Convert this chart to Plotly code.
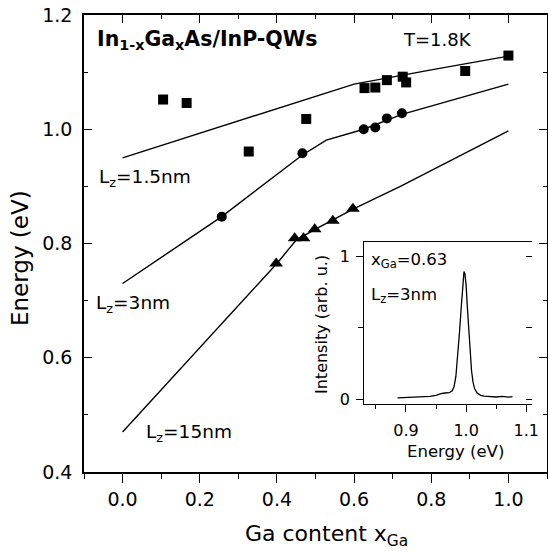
import plotly.graph_objects as go

# ---- data ----
sq_x = [0.105, 0.166, 0.327, 0.476, 0.627, 0.655, 0.685, 0.726, 0.735, 0.888, 1.000]
sq_y = [1.052, 1.046, 0.961, 1.018, 1.072, 1.073, 1.086, 1.092, 1.082, 1.102, 1.129]

ci_x = [0.257, 0.466, 0.625, 0.655, 0.685, 0.724]
ci_y = [0.847, 0.958, 1.000, 1.003, 1.019, 1.028]

tr_x = [0.398, 0.446, 0.469, 0.498, 0.545, 0.597]
tr_y = [0.765, 0.809, 0.809, 0.825, 0.840, 0.861]

l15_x = [0.0, 0.30, 0.60, 0.80, 1.00]
l15_y = [0.950, 1.014, 1.079, 1.104, 1.128]

l3_x = [0.0, 0.257, 0.466, 0.528, 0.625, 0.724, 1.00]
l3_y = [0.730, 0.847, 0.955, 0.981, 1.000, 1.026, 1.079]

l15nm_x = [0.0, 0.20, 0.40, 0.45, 0.50, 0.60, 0.72, 1.00]
l15nm_y = [0.470, 0.618, 0.765, 0.806, 0.825, 0.861, 0.900, 0.997]

# inset PL spectrum
pl_e = [0.886, 0.900, 0.910, 0.920, 0.930, 0.940, 0.950, 0.958, 0.965, 0.972, 0.977,
        0.980, 0.983, 0.986, 0.989, 0.992, 0.9945, 0.9965, 0.998, 1.000, 1.002, 1.004,
        1.0066, 1.009, 1.0115, 1.014, 1.018, 1.024, 1.030, 1.040, 1.050, 1.060, 1.070, 1.077]
pl_i = [0.010, 0.012, 0.014, 0.012, 0.016, 0.020, 0.028, 0.040, 0.044, 0.046, 0.060,
        0.090, 0.160, 0.300, 0.470, 0.650, 0.820, 0.895, 0.880, 0.800, 0.650, 0.500,
        0.346, 0.200, 0.120, 0.075, 0.045, 0.028, 0.022, 0.018, 0.016, 0.020, 0.015, 0.018]

FONT = "DejaVu Sans, Liberation Sans, Arial, sans-serif"
BLACK = "black"

fig = go.Figure()

# model curves
for lx, ly in [(l15_x, l15_y), (l3_x, l3_y), (l15nm_x, l15nm_y)]:
    fig.add_trace(go.Scatter(x=lx, y=ly, mode="lines",
                             line=dict(color=BLACK, width=1.4), showlegend=False,
                             xaxis="x", yaxis="y"))

fig.add_trace(go.Scatter(x=sq_x, y=sq_y, mode="markers",
                         marker=dict(symbol="square", size=10, color=BLACK),
                         showlegend=False, xaxis="x", yaxis="y"))
fig.add_trace(go.Scatter(x=ci_x, y=ci_y, mode="markers",
                         marker=dict(symbol="circle", size=10, color=BLACK),
                         showlegend=False, xaxis="x", yaxis="y"))
fig.add_trace(go.Scatter(x=tr_x, y=tr_y, mode="markers",
                         marker=dict(symbol="triangle-up", size=12, color=BLACK),
                         showlegend=False, xaxis="x", yaxis="y"))

# inset spectrum
fig.add_trace(go.Scatter(x=pl_e, y=pl_i, mode="lines",
                         line=dict(color=BLACK, width=1.3), showlegend=False,
                         xaxis="x2", yaxis="y2"))

# dummy traces so the overlay axes render
fig.add_trace(go.Scatter(x=[None], y=[None], xaxis="x3", yaxis="y", showlegend=False))
fig.add_trace(go.Scatter(x=[None], y=[None], xaxis="x2", yaxis="y4", showlegend=False))

base = dict(showgrid=False, zeroline=False, showline=True, linecolor=BLACK,
            tickcolor=BLACK, automargin=False)

fig.update_layout(
    width=548, height=552,
    margin=dict(l=84, r=1, t=15, b=80),
    paper_bgcolor="white", plot_bgcolor="white",
    font=dict(family=FONT, color=BLACK),
    xaxis=dict(**base, range=[-0.1, 1.1], domain=[0, 1],
               tickvals=[0.0, 0.2, 0.4, 0.6, 0.8, 1.0], tickformat=".1f",
               tickfont=dict(family=FONT, size=19, color=BLACK),
               ticks="outside", ticklen=9, tickwidth=1.3, linewidth=1.6,
               minor=dict(dtick=0.1, tick0=0, ticks="outside", ticklen=5,
                          tickwidth=1.3, tickcolor=BLACK),
               anchor="y"),
    xaxis3=dict(**base, linewidth=1.6, range=[-0.1, 1.1], overlaying="x", side="top",
                anchor="y", tickvals=[0.0, 0.2, 0.4, 0.6, 0.8, 1.0],
                showticklabels=False, ticks="inside", ticklen=8, tickwidth=1.3,
                minor=dict(dtick=0.1, tick0=0, ticks="inside", ticklen=4,
                           tickwidth=1.3, tickcolor=BLACK)),
    yaxis=dict(**base, range=[0.4, 1.2], domain=[0, 1],
               tickvals=[0.4, 0.6, 0.8, 1.0, 1.2], tickformat=".1f",
               tickfont=dict(family=FONT, size=19, color=BLACK),
               ticks="inside", ticklen=8, tickwidth=1.3, linewidth=1.6,
               mirror="ticks", ticklabelstandoff=6,
               minor=dict(dtick=0.1, tick0=0, ticks="inside", ticklen=4,
                          tickwidth=1.3, tickcolor=BLACK),
               anchor="x"),
    xaxis2=dict(**base, linewidth=1.4, mirror=True, range=[0.831, 1.109],
                domain=[0.6056, 0.967], anchor="y2",
                tickvals=[0.9, 1.0, 1.1], tickformat=".1f",
                ticks="outside", ticklen=7, tickwidth=1.2, ticklabelstandoff=5,
                tickfont=dict(family=FONT, size=16, color=BLACK),
                minor=dict(tickvals=[0.85, 0.95, 1.05], ticks="outside", ticklen=4,
                           tickwidth=1.2, tickcolor=BLACK)),
    yaxis2=dict(**base, linewidth=1.4, range=[-0.033, 1.10],
                domain=[0.1488, 0.5026], anchor="x2",
                tickvals=[0, 1], ticks="outside", ticklen=7, tickwidth=1.2,
                ticklabelstandoff=3,
                tickfont=dict(family=FONT, size=16, color=BLACK),
                minor=dict(tickvals=[0.5], ticks="outside", ticklen=5,
                           tickwidth=1.2, tickcolor=BLACK)),
    yaxis4=dict(showgrid=False, zeroline=False, showline=False, automargin=False,
                range=[-0.033, 1.10], overlaying="y2", side="right", anchor="x2",
                tickvals=[0, 0.5, 1], showticklabels=False, ticks="inside",
                ticklen=6, tickwidth=1.2, tickcolor=BLACK),
)

ann = []
# axis titles
ann.append(dict(text="Ga content x<sub>Ga</sub>", xref="paper", yref="paper",
                x=(326 - 84) / 463, y=(472 - 535) / 457, xanchor="center",
                yanchor="middle", font=dict(size=22), showarrow=False))
ann.append(dict(text="Energy (eV)", xref="paper", yref="paper",
                x=(20 - 84) / 463, y=(472 - 258) / 457, xanchor="center",
                yanchor="middle", textangle=-90, font=dict(size=23), showarrow=False))
# main labels
ann.append(dict(text="<b>In<sub>1-x</sub>Ga<sub>x</sub>As/InP-QWs</b>", xref="x", yref="y",
                x=-0.072, y=1.156, xanchor="left", yanchor="middle",
                font=dict(size=20.5), showarrow=False))
ann.append(dict(text="T=1.8K", xref="x", yref="y", x=0.722, y=1.157,
                xanchor="left", yanchor="middle", font=dict(size=18), showarrow=False))
ann.append(dict(text="L<sub>z</sub>=1.5nm", xref="x", yref="y", x=-0.066, y=0.914,
                xanchor="left", yanchor="middle", font=dict(size=18.5), showarrow=False))
ann.append(dict(text="L<sub>z</sub>=3nm", xref="x", yref="y", x=-0.075, y=0.694,
                xanchor="left", yanchor="middle", font=dict(size=18.5), showarrow=False))
ann.append(dict(text="L<sub>z</sub>=15nm", xref="x", yref="y", x=0.055, y=0.468,
                xanchor="left", yanchor="middle", font=dict(size=18.5), showarrow=False))
# inset labels
ann.append(dict(text="x<sub>Ga</sub>=0.63", xref="x2", yref="y2", x=0.838, y=0.975,
                xanchor="left", yanchor="middle", font=dict(size=16.5), showarrow=False))
ann.append(dict(text="L<sub>z</sub>=3nm", xref="x2", yref="y2", x=0.838, y=0.725,
                xanchor="left", yanchor="middle", font=dict(size=16.5), showarrow=False))
ann.append(dict(text="Energy (eV)", xref="paper", yref="paper",
                x=(455 - 84) / 463, y=(472 - 451.7) / 457, xanchor="center",
                yanchor="middle", font=dict(size=16.5), showarrow=False))
ann.append(dict(text="Intensity (arb. u.)", xref="paper", yref="paper",
                x=(321 - 84) / 463, y=(472 - 325) / 457, xanchor="center",
                yanchor="middle", textangle=-90, font=dict(size=16), showarrow=False))

fig.update_layout(annotations=ann)

fig.write_html("out.html")
